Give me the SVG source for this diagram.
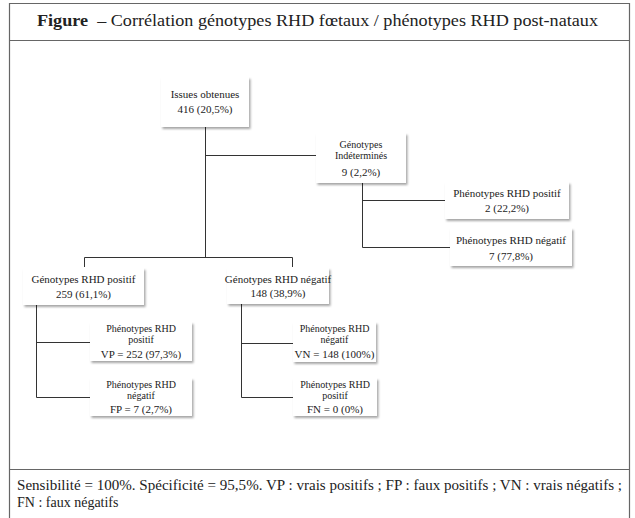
<svg xmlns="http://www.w3.org/2000/svg" width="635" height="518" viewBox="0 0 635 518">
  <defs>
    <filter id="sh" x="-10%" y="-10%" width="130%" height="140%">
      <feDropShadow dx="1.5" dy="2" stdDeviation="1.2" flood-color="#000" flood-opacity="0.35"/>
    </filter>
    <style>
      .frame { fill: none; stroke: #666; stroke-width: 1.2; }
      .box { fill: #fff; filter: url(#sh); }
      .t { font-family: "Liberation Serif", "DejaVu Serif", serif; font-size: 11px; fill: #222; text-anchor: middle; }
      .s { font-size: 10px; }
      .title { font-family: "Liberation Serif", "DejaVu Serif", serif; font-size: 17px; fill: #222; }
      .foot { font-family: "Liberation Serif", "DejaVu Serif", serif; font-size: 14px; fill: #222; }
      .c { fill: none; stroke: #333; stroke-width: 1; }
    </style>
  </defs>
  <rect width="635" height="518" fill="#fff"/>
  <!-- frame -->
  <path class="frame" d="M9.5,520 V3.5 H629.5 V520 M9.5,40.5 H629.5 M9.5,469.5 H629.5"/>
  <text class="title" x="37" y="26" textLength="561" lengthAdjust="spacingAndGlyphs"><tspan font-weight="bold">Figure</tspan>&#160; – Corrélation génotypes RHD fœtaux / phénotypes RHD post-nataux</text>
  <text class="foot" x="17" y="490" textLength="605" lengthAdjust="spacingAndGlyphs">Sensibilité = 100%. Spécificité = 95,5%. VP : vrais positifs ; FP : faux positifs ; VN : vrais négatifs ;</text>
  <text class="foot" x="17" y="507">FN : faux négatifs</text>

  <g id="connectors">
    <path class="c" d="M205.5,127 V257.5 M205.5,155.5 H316 M84.5,267 V257.5 H292.5 V267"/>
    <path class="c" d="M362.5,183 V247.5 H450 M362.5,200.5 H445"/>
    <path class="c" d="M36.5,305 V397.5 H90 M36.5,342.5 H90"/>
    <path class="c" d="M241.5,304 V397.5 H293 M241.5,343.5 H293"/>
  </g>

  <g id="issues">
    <rect class="box" x="161" y="77" width="88" height="50"/>
    <text class="t" x="205" y="98">Issues obtenues</text>
    <text class="t" x="205" y="113">416 (20,5%)</text>
  </g>
  <g id="indetermines">
    <rect class="box" x="316" y="133" width="90" height="50"/>
    <text class="t s" x="361" y="147.5">Génotypes</text>
    <text class="t s" x="361" y="159">Indéterminés</text>
    <text class="t" x="361" y="176">9 (2,2%)</text>
  </g>
  <g id="ind-pos">
    <rect class="box" x="445" y="182" width="124" height="37"/>
    <text class="t" x="507" y="197">Phénotypes RHD positif</text>
    <text class="t" x="507" y="212">2 (22,2%)</text>
  </g>
  <g id="ind-neg">
    <rect class="box" x="450" y="228" width="122" height="38"/>
    <text class="t" x="511" y="244">Phénotypes RHD négatif</text>
    <text class="t" x="511" y="260">7 (77,8%)</text>
  </g>
  <g id="geno-pos">
    <rect class="box" x="23" y="268" width="121" height="37"/>
    <text class="t" x="83.5" y="283">Génotypes RHD positif</text>
    <text class="t" x="83.5" y="298">259 (61,1%)</text>
  </g>
  <g id="geno-neg">
    <rect class="box" x="227" y="268" width="102" height="36"/>
    <text class="t" x="278" y="283">Génotypes RHD négatif</text>
    <text class="t" x="278" y="297">148 (38,9%)</text>
  </g>
  <g id="vp">
    <rect class="box" x="90" y="322" width="102" height="39"/>
    <text class="t s" x="141" y="331.5">Phénotypes RHD</text>
    <text class="t s" x="141" y="343">positif</text>
    <text class="t" x="141" y="358">VP = 252 (97,3%)</text>
  </g>
  <g id="fp">
    <rect class="box" x="90" y="378" width="102" height="38"/>
    <text class="t s" x="141" y="387.5">Phénotypes RHD</text>
    <text class="t s" x="141" y="399">négatif</text>
    <text class="t" x="141" y="413">FP = 7 (2,7%)</text>
  </g>
  <g id="vn">
    <rect class="box" x="293" y="322" width="83" height="40"/>
    <text class="t s" x="334.5" y="331.5">Phénotypes RHD</text>
    <text class="t s" x="334.5" y="343">négatif</text>
    <text class="t" x="334.5" y="358">VN = 148 (100%)</text>
  </g>
  <g id="fn">
    <rect class="box" x="293" y="378" width="84" height="38"/>
    <text class="t s" x="335" y="387.5">Phénotypes RHD</text>
    <text class="t s" x="335" y="399">positif</text>
    <text class="t" x="335" y="413">FN = 0 (0%)</text>
  </g>
</svg>
